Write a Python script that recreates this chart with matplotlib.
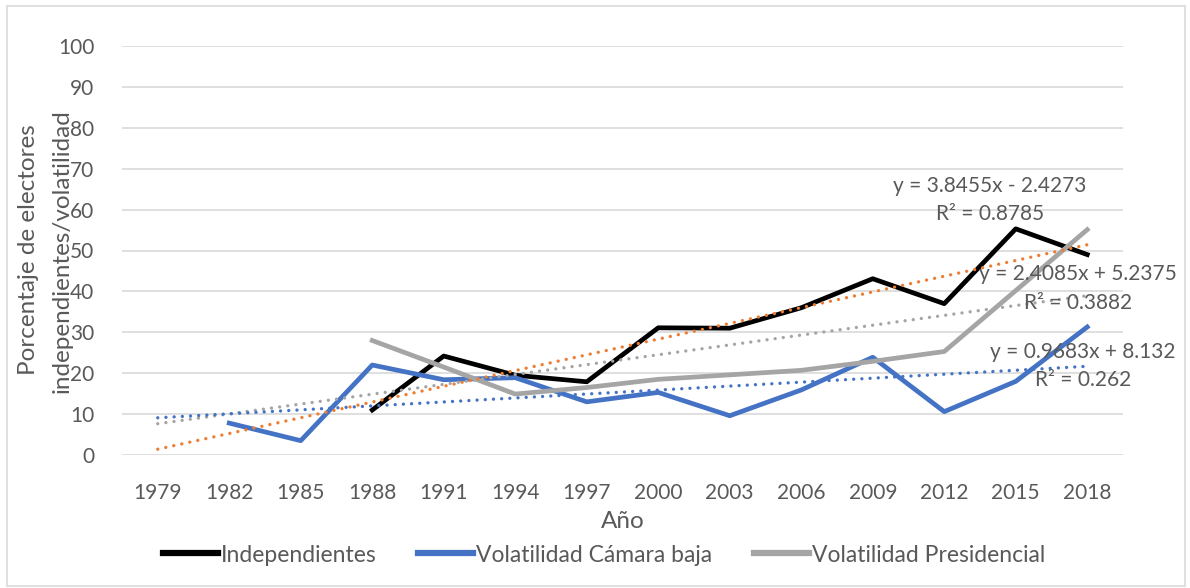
import numpy as np
import matplotlib.pyplot as plt
from matplotlib.patches import Rectangle

plt.rcParams['font.family'] = ['Lato', 'DejaVu Sans']

years = ['1979', '1982', '1985', '1988', '1991', '1994', '1997',
         '2000', '2003', '2006', '2009', '2012', '2015', '2018']

# nan = no value for that year
independientes = [np.nan, np.nan, np.nan, 11, 24.2, 19.5, 17.9,
                  31.1, 31, 36, 43.1, 37, 55.3, 49]
vol_camara = [np.nan, 7.8, 3.5, 22, 18.4, 18.9, 13,
              15.3, 9.6, 15.9, 23.9, 10.6, 18, 31.3]
vol_presidencial = [np.nan, np.nan, np.nan, 28, 21.5, 14.9, 16.5,
                    18.5, 19.6, 20.7, 22.9, 25.3, 40.2, 55.1]

# linear trendlines as shown in the chart (x = 1..14)
trend_slope = [3.8455, 2.4085, 0.9683]
trend_icpt = [-2.4273, 5.2375, 8.132]
trend_r2 = ['0.8785', '0.3882', '0.262']
trend_colors = ['#ED7D31', '#A5A5A5', '#4472C4']

grey_txt = '#595959'

fig = plt.figure(figsize=(11.9, 5.88), dpi=100)
ax = fig.add_axes([122/1190, 1-455/588, (1123-122)/1190, (455-46)/588])

x = np.arange(len(years))

ax.plot(x, independientes, color='black', lw=3.4, label='Independientes', zorder=3)
ax.plot(x, vol_camara, color='#4472C4', lw=3.4, label='Volatilidad Cámara baja', zorder=3)
ax.plot(x, vol_presidencial, color='#A5A5A5', lw=3.4, label='Volatilidad Presidencial', zorder=3)

# trendlines (excel draws them above the series)
xt = np.array([x[0], x[-1]])
for m, b, c in zip(trend_slope, trend_icpt, trend_colors):
    ax.plot(xt, m*(xt+1) + b, color=c, lw=2.4, ls=(0, (0.01, 2.45)),
            dash_capstyle='round', zorder=4)

# equation labels
lbl_pos = [(990, 186, 214), (1078, 274, 303), (1083, 352, 380)]
for (px, py1, py2), m, b, r2 in zip(lbl_pos, trend_slope, trend_icpt, trend_r2):
    sign = '-' if b < 0 else '+'
    fig.text(px/1190, 1-py1/588, f'y = {m}x {sign} {abs(b)}', ha='center', va='center',
             fontsize=15, color=grey_txt, zorder=5)
    fig.text(px/1190, 1-py2/588, f'R² = {r2}', ha='center', va='center',
             fontsize=15, color=grey_txt, zorder=5)

ax.set_xlim(-0.5, len(years)-0.5)
ax.set_ylim(0, 100)
ax.set_yticks(np.arange(0, 101, 10))
ax.set_xticks(x)
ax.set_xticklabels(years)
ax.tick_params(length=0, labelsize=15, labelcolor=grey_txt)
ax.tick_params(axis='y', pad=20)
ax.tick_params(axis='x', pad=20)
ax.grid(axis='y', color='#D9D9D9', lw=1.2)
ax.set_axisbelow(True)
for s in ax.spines.values():
    s.set_visible(False)

ax.set_xlabel('Año', fontsize=17.5, color=grey_txt, labelpad=6)
fig.text(29/1190, 1-250/588, 'Porcentaje de electores', rotation=90,
         ha='center', va='center', fontsize=17.5, color=grey_txt)
fig.text(62/1190, 1-251/588, 'independientes/volatilidad', rotation=90,
         ha='center', va='center', fontsize=17.5, color=grey_txt)

leg = fig.legend(loc='center', bbox_to_anchor=(604/1190, 1-555/588), ncol=3,
                 frameon=False, fontsize=16.5, handlelength=2.4, handletextpad=0.15,
                 columnspacing=1.8)
for t in leg.get_texts():
    t.set_color(grey_txt)
for h in leg.get_lines():
    h.set_linewidth(4.5)

# chart area border
fig.patches.append(Rectangle((7/1190, 2/588), 1178/1190, 580/588, transform=fig.transFigure,
                             fill=False, edgecolor='#D9D9D9', lw=1.2))

fig.savefig('out.png', dpi=100)
